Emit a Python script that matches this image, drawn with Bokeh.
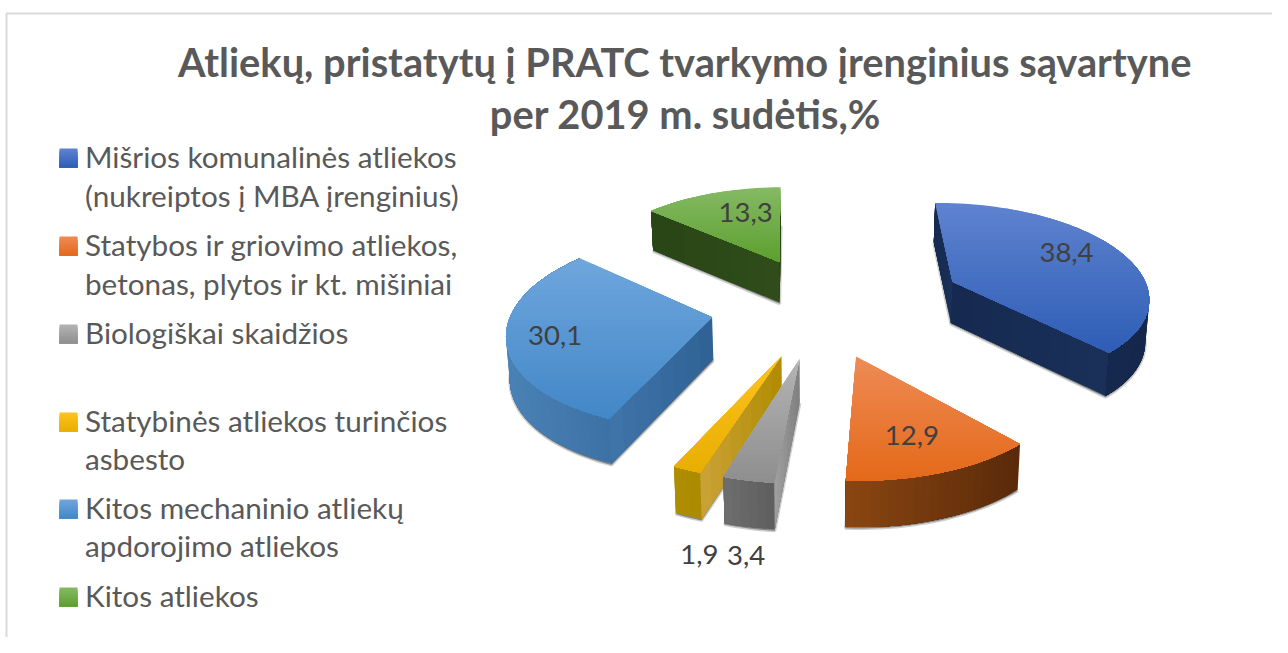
import math
from bokeh.plotting import figure
from bokeh.models import ColumnDataSource, Range1d
from bokeh.core.properties import value
from bokeh.embed import file_html
from bokeh.resources import INLINE

# ---- data ----
title_lines = ["Atliekų, pristatytų į PRATC  tvarkymo įrenginius sąvartyne", "per 2019 m. sudėtis,%"]
categories = [
    ["Mišrios komunalinės atliekos", "(nukreiptos į MBA įrenginius)"],
    ["Statybos ir griovimo atliekos,", "betonas, plytos ir kt. mišiniai"],
    ["Biologiškai skaidžios"],
    ["Statybinės atliekos turinčios", "asbesto"],
    ["Kitos mechaninio atliekų", "apdorojimo atliekos"],
    ["Kitos atliekos"],
]
shares = [38.4, 12.9, 3.4, 1.9, 30.1, 13.3]
labels = ["38,4", "12,9", "3,4", "1,9", "30,1", "13,3"]

# ---- styles ----
top_light = ["#5f83cf", "#ee8b55", "#b4b4b4", "#ffc31f", "#6fa6dd", "#85ba64"]
top_dark = ["#2e5db6", "#e4691a", "#8e8e8e", "#e8ae00", "#4287c7", "#5d9f2e"]
arc_a = ["#152a52", "#8a4611", "#6e6e6e", "#b08d00", "#4a82b6", "#2f4d1a"]
arc_b = ["#15284c", "#5a2a0a", "#565656", "#a38200", "#2f6194", "#294516"]
wall_a = ["#1a3059", "#5a2a0a", "#7f7f7f", "#b08c00", "#2f6194", "#2f4d1a"]
wall_b = ["#162a50", "#5a2a0a", "#a0a0a0", "#cba237", "#4075aa", "#294516"]

# ---- pie geometry ----
CX, CY, R, K, PERSP, DEPTH, LEAN = 820.0, 308.5, 200.0, 0.475, 0.126, 42.0, 0.012
START = -1.0
explode = [0.747, 0.50, 0.50, 0.50, 0.543, 0.573]
explode_da = [-1.7, 0, 0, 0, 4.0, 2.3]
turn = [0, 0, 1.5, 2.2, 0, 0]
label_r = [0.72, 0.72, 1.49, 1.52, 0.77, 0.64]
label_da = [-5, 1.5, -4.3, -11.2, -2.3, 6]
draw_order = [5, 0, 4, 3, 2, 1]


def proj(X, Y, z=0.0):
    w = 1.0 / (1.0 + PERSP * Y)
    return (CX + R * X * w * (1 - LEAN * z), CY - R * K * Y * w + DEPTH * z * math.sqrt(w))


def lerp_hex(a, b, t):
    ca = [int(a[i:i + 2], 16) for i in (1, 3, 5)]
    cb = [int(b[i:i + 2], 16) for i in (1, 3, 5)]
    return "#%02x%02x%02x" % tuple(round(u + (v - u) * t) for u, v in zip(ca, cb))


def clip_from(poly, y0):
    out = []
    for i, a in enumerate(poly):
        b = poly[(i + 1) % len(poly)]
        if a[1] >= y0:
            out.append(a)
        if (a[1] >= y0) != (b[1] >= y0):
            out.append((a[0] + (b[0] - a[0]) * (y0 - a[1]) / (b[1] - a[1]), y0))
    return out


sh_x, sh_y = [], []
fx, fy, fc = [], [], []


def add(poly, color):
    fx.append([p[0] for p in poly])
    fy.append([p[1] for p in poly])
    fc.append(color)


total = sum(shares)
bounds = [START]
for s in shares:
    bounds.append(bounds[-1] + 360.0 * s / total)
mids = [(bounds[i] + bounds[i + 1]) / 2 + turn[i] for i in range(len(shares))]


def apex(i):
    m = math.radians(mids[i] + explode_da[i])
    return explode[i] * math.sin(m), explode[i] * math.cos(m)


def outline(i, n_per_deg=0.5):
    a0, a1 = bounds[i] + turn[i], bounds[i + 1] + turn[i]
    ox, oy = apex(i)
    n = max(3, int((a1 - a0) * n_per_deg))
    pts = [(ox, oy)]
    for j in range(n + 1):
        t = math.radians(a0 + (a1 - a0) * j / n)
        pts.append((ox + math.sin(t), oy + math.cos(t)))
    return pts


for i in draw_order:
    world = outline(i)
    n = len(world)
    bottom = [proj(X, Y, 1.03) for X, Y in world]
    sh_x.append([p[0] for p in bottom])
    sh_y.append([p[1] for p in bottom])
    top = [proj(X, Y) for X, Y in world]
    xmin = min(p[0] for p in top)
    xmax = max(p[0] for p in top)

    def wall(A, B, ca, cb, strips):
        a, b = proj(*A), proj(*B)
        a2, b2 = proj(*A, 1.0), proj(*B, 1.0)
        if b[0] >= a[0]:
            return
        mix = lambda p, q, t: (p[0] + (q[0] - p[0]) * t, p[1] + (q[1] - p[1]) * t)
        for s in range(strips):
            # each strip reaches to the far end, so no seam can open between strips
            t0 = s / strips
            add([mix(a, b, t0), b, b2, mix(a2, b2, t0)], lerp_hex(ca, cb, (s + .5) / strips))

    wall(world[n - 1], world[0], wall_a[i], wall_b[i], 8)
    wall(world[0], world[1], wall_a[i], wall_b[i], 8)
    # outer curved wall: painted right to left, each piece overlapping the next
    for j in range(1, n - 1):
        a, b = proj(*world[j]), proj(*world[j + 1])
        if b[0] < a[0]:
            xm = (a[0] + b[0]) / 2
            t = (xmax - xm) / (xmax - xmin) if xmax > xmin else 0
            tail = [proj(*world[q]) for q in range(j, n)]
            tail2 = [proj(*world[q], 1.0) for q in range(n - 1, j - 1, -1)]
            add(tail + tail2, lerp_hex(arc_b[i], arc_a[i], t))

    ymin = min(p[1] for p in top)
    ymax = max(p[1] for p in top)
    bands = 26
    for b in range(bands):
        y0 = ymin + (ymax - ymin) * b / bands
        piece = clip_from(top, y0)
        if len(piece) >= 3:
            add(piece, lerp_hex(top_light[i], top_dark[i], (b + .5) / bands))

# ---- figure ----
p = figure(width=1272, height=637, x_range=Range1d(0, 1272), y_range=Range1d(637, 0),
           output_backend="svg", toolbar_location=None, min_border=0)
p.axis.visible = False
p.grid.visible = False
p.outline_line_color = None
p.background_fill_color = "#ffffff"

# chart border
p.line(x=[6, 6, 1272], y=[637, 13, 13], line_color="#d9d9d9", line_width=2)

p.patches(sh_x, sh_y, fill_color="#404040", fill_alpha=0.55, line_color="#606060", line_alpha=0.3, line_width=3)
p.patches("x", "y", source=ColumnDataSource(dict(x=fx, y=fy, c=fc)),
          fill_color="c", line_color=None)

# title
FONT = "Lato"
for line, ty, tx in zip(title_lines, [61, 113], [689, 685]):
    p.text(x=[tx], y=[ty], text=[line], text_align="center", text_baseline="middle",
           text_font=value(FONT), text_font_style="bold", text_font_size="39.8px", text_color="#595959")

# legend
leg_y = [[158, 197], [246, 285], [334], [422, 460], [509, 547], [597]]
for i, rows in enumerate(leg_y):
    y0 = rows[0] - 10
    for b in range(10):
        p.quad(left=[59], right=[77], top=[y0 + 1.9 * b], bottom=[y0 + 19],
               fill_color=lerp_hex(top_light[i], top_dark[i], (b + .5) / 10),
               line_color=None)
    for txt, ty in zip(categories[i], rows):
        p.text(x=[84.5], y=[ty - 2.5], text=[txt], text_baseline="middle", text_font=value(FONT),
               text_font_size="29.7px", text_color="#595959")

# data labels
for i, lab in enumerate(labels):
    ox, oy = apex(i)
    d = math.radians(mids[i] + label_da[i])
    lx, ly = proj(ox + label_r[i] * math.sin(d), oy + label_r[i] * math.cos(d))
    p.text(x=[lx], y=[ly - 2], text=[lab], text_align="center", text_baseline="middle",
           text_font=value(FONT), text_font_size="27.5px", text_color="#404040")

open("out.html", "w").write(file_html(p, INLINE))
